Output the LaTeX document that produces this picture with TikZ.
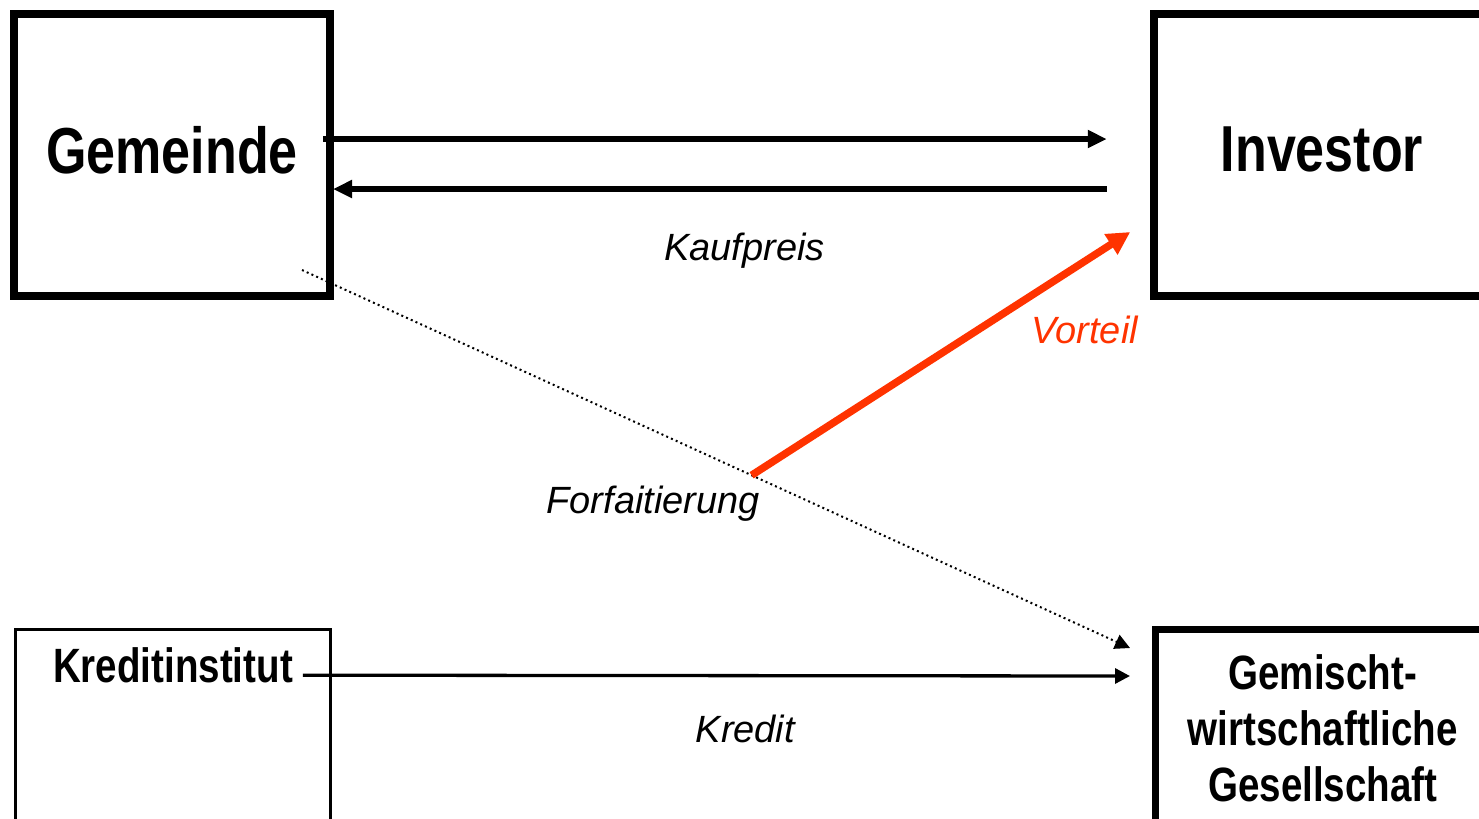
\documentclass[tikz,border=0pt]{standalone}
\usepackage{fontspec}
\setmainfont{Liberation Sans}
\newfontfamily\boxfont[FakeStretch=0.8]{Liberation Sans}
\usetikzlibrary{arrows.meta,positioning}
\definecolor{vorteilred}{HTML}{FF3300}

\begin{document}
\begin{tikzpicture}[x=0.1mm,y=-0.1mm,
  every node/.style={inner sep=0pt,outer sep=0pt,align=center},
  bigbox/.style={draw,line width=0.8mm,minimum height=28.2mm,text depth=1.1mm,
    font=\boxfont\bfseries\fontsize{18.5}{22}\selectfont},
  boxtext/.style={font=\boxfont\bfseries\fontsize{13.7}{15.9}\selectfont},
  lbl/.style={font=\itshape\fontsize{10.8}{13}\selectfont},
  flow/.style={-{Triangle[length=1.9mm,width=1.7mm]},line width=0.6mm},
  credit/.style={-{Triangle[length=1.5mm,width=1.5mm]},line width=0.33mm},
  dots/.style={-{Triangle[length=1.5mm,width=1.5mm]},line width=0.2mm,dash pattern=on 0.2mm off 0.32mm},
  redarr/.style={-{Triangle[length=2.3mm,width=2.3mm]},line width=0.75mm,vorteilred}
]
\useasboundingbox (0,0) rectangle (1479,818);
\clip (0,0) rectangle (1479,818);

\node[bigbox,minimum width=31.6mm] (gem) at (172,155) {Gemeinde};
\node[bigbox,minimum width=33.55mm] (inv) at (1322,155) {Investor};
\node[draw,line width=0.3mm,minimum width=31.5mm,minimum height=20mm] (kreditbox) at (173,729.5) {};
\node[draw,line width=0.7mm,minimum width=33.45mm,minimum height=20mm] (gesellbox) at (1322.75,729.5) {};
\node[boxtext,below=1.85mm of kreditbox.north] (kredit) {Kreditinstitut};
\node[boxtext,below=2.55mm of gesellbox.north] (gesell) {Gemischt-\\wirtschaftliche\\Gesellschaft};

\draw[flow] ([shift={(-7,-16)}]gem.east) -- ([shift={(-47.5,-16)}]inv.west);
\draw[flow] ([shift={(-47.5,34)}]inv.west) -- node[lbl,pos=0.468,below=4.4mm] (kauf) {Kaufpreis} ([shift={(3,34)}]gem.east);
\draw[dots] ([shift={(-28,-26)}]gem.south east) -- coordinate[pos=0.543] (vstart)
  node[lbl,pos=0.424,below=5.6mm] (forf) {Forfaitierung} ([shift={(-25.5,18.5)}]gesellbox.north west);
\draw[redarr] (vstart) -- node[lbl,text=vorteilred,pos=0.88,below=5.5mm] (vort) {Vorteil} ([shift={(-24,77)}]inv.west);
\draw[credit] ([shift={(10,9.5)}]kredit.east) -- node[lbl,pos=0.535,below=3.9mm] (kreditlbl) {Kredit} ([shift={(-25.5,46.5)}]gesellbox.north west);
\end{tikzpicture}
\end{document}
